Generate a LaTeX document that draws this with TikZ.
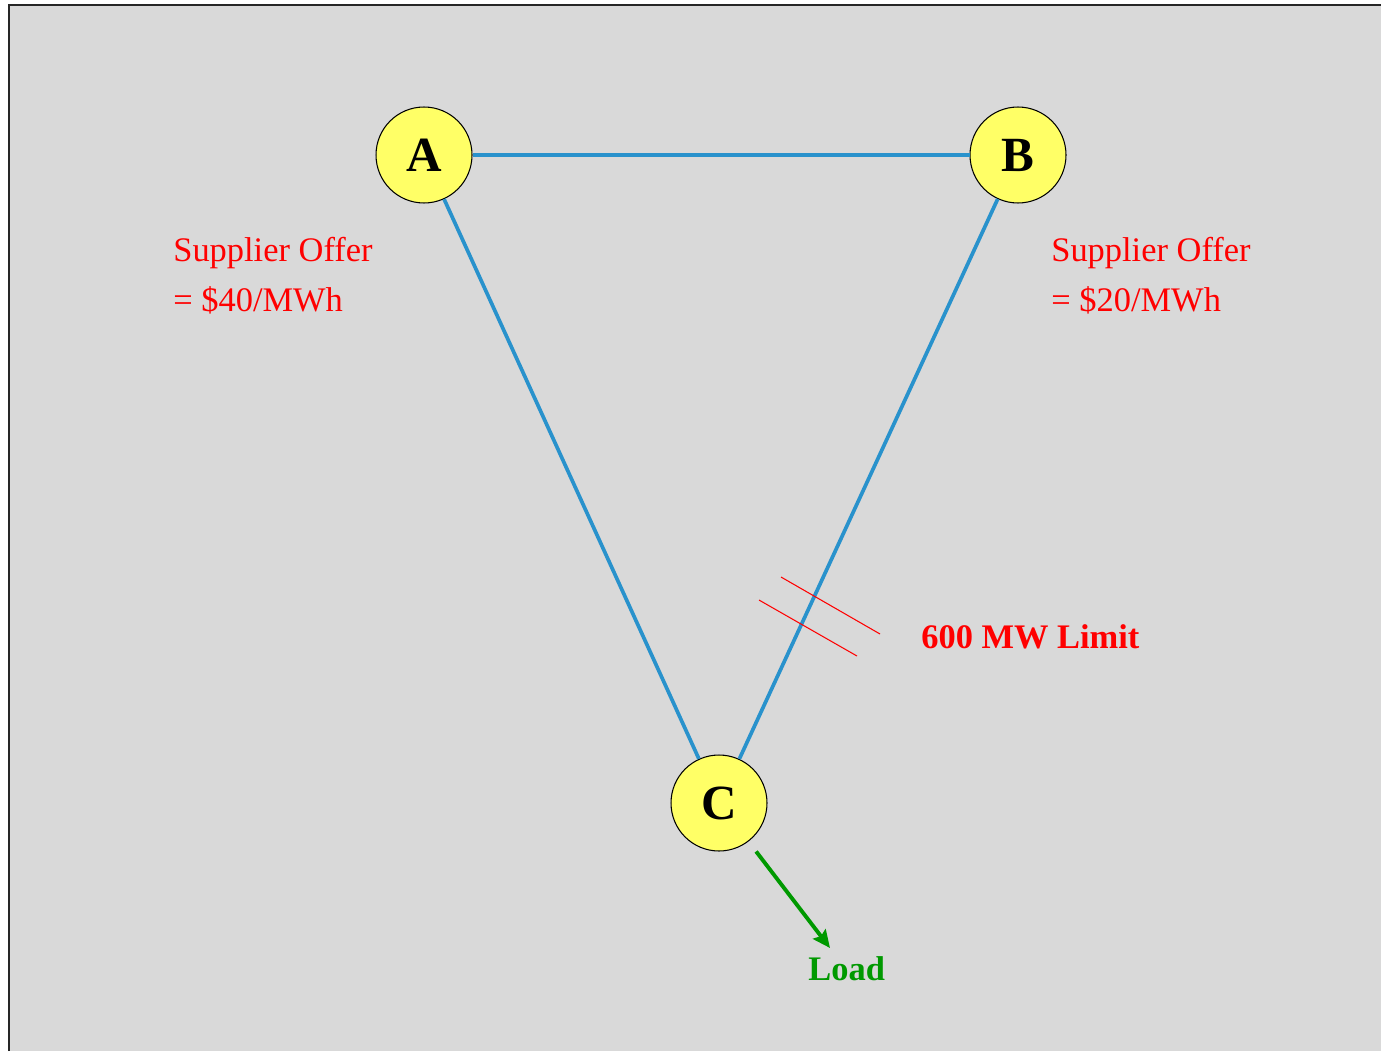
\documentclass[tikz,border=0pt]{standalone}
\usepackage{fontspec}
\setmainfont{Liberation Serif}
\usetikzlibrary{arrows.meta}

\definecolor{panelgray}{RGB}{217,217,217}
\definecolor{busyellow}{RGB}{255,255,102}
\definecolor{lineblue}{RGB}{41,146,204}
\definecolor{loadgreen}{RGB}{0,153,0}

\begin{document}
\begin{tikzpicture}[x=0.02cm,y=-0.02cm]
            \tikzstyle{line}=[draw=lineblue,line width=2.1pt,-]
            \tikzstyle{bus}=[circle,draw=black,line width=0.6pt,fill=busyellow,minimum size=1.92cm,inner sep=0pt,font=\fontsize{28}{30}\selectfont\bfseries]
            \tikzstyle{offer}=[text=red,align=left,anchor=base west,inner sep=0pt,font=\fontsize{19.6}{28}\selectfont]
            \tikzstyle{limit}=[draw=red,line width=0.6pt]

            \useasboundingbox (0,0) rectangle (1381,1051);
            \fill[panelgray] (9,5) rectangle (1381,1051);
            \draw[line width=1.2pt,black!85] (9,1051) -- (9,5) -- (1381,5);

            \node[bus] (A) at ( 424,155) {A};
            \node[bus] (B) at (1018,155) {B};
            \node[bus] (C) at ( 719,803) {C};

            \path[line] (A) -- (B);
            \path[line] (A) -- (C);
            \path[line] (B) -- (C);

            % offers
            \node[offer] (offerA) at ( 173,311) {Supplier Offer\\= \$40/MWh};
            \node[offer] (offerB) at (1051,311) {Supplier Offer\\= \$20/MWh};

            % line limit on B--C
            \coordinate (h1a) at (781,577);
            \coordinate (h1b) at (880,634);
            \coordinate (h2a) at (759,600);
            \coordinate (h2b) at (857,656);
            \draw[limit] (h1a) -- (h1b);
            \draw[limit] (h2a) -- (h2b);
            \node[text=red,anchor=base west,inner sep=0pt,font=\fontsize{19.6}{24}\selectfont\bfseries] (limit) at (921,648) {600 MW Limit};

            % load
            \coordinate (tip) at (830,948);
            \node[text=loadgreen,anchor=base west,inner sep=0pt,font=\fontsize{19.6}{24}\selectfont\bfseries] (load) at (808,980) {Load};
            \draw[draw=loadgreen,line width=2.2pt,shorten <=0.25cm,-{Stealth[length=10pt,width=9pt,inset=1.5pt]}] (C) -- (tip);
        \end{tikzpicture}
\end{document}
